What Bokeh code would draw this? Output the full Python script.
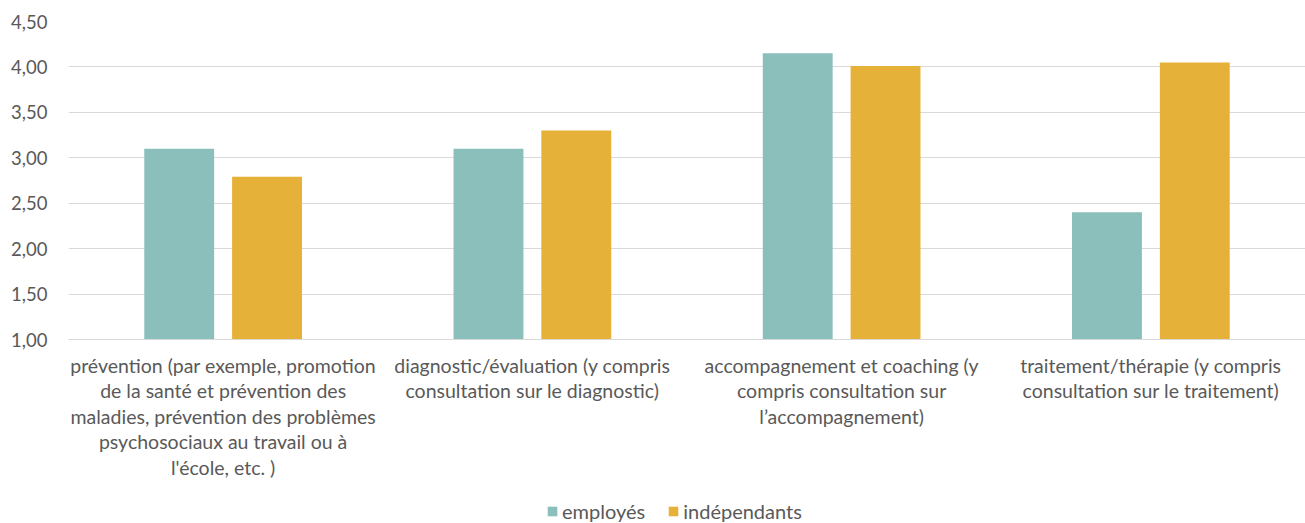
from bokeh.plotting import figure
from bokeh.layouts import column
from bokeh.models import (FactorRange, ColumnDataSource, FixedTicker,
                          CustomJSTickFormatter, Legend, LegendItem, Range1d)
from bokeh.transform import dodge
from bokeh.embed import file_html
from bokeh.resources import INLINE

categories = [
    "prévention (par exemple, promotion\nde la santé et prévention des\nmaladies, prévention des problèmes\npsychosociaux au travail ou à\nl'école, etc. )",
    "diagnostic/évaluation (y compris\nconsultation sur le diagnostic)",
    "accompagnement et coaching (y\ncompris consultation sur\nl’accompagnement)",
    "traitement/thérapie (y compris\nconsultation sur le traitement)",
]
series_names = ["employés", "indépendants"]
employes = [3.10, 3.10, 4.15, 2.40]
independants = [2.79, 3.30, 4.01, 4.05]
y_ticks = [1.0, 1.5, 2.0, 2.5, 3.0, 3.5, 4.0, 4.5]

colors = ["#8ABFBC", "#E6B138"]
FONT = "Lato"
TXT = "#595959"

src = ColumnDataSource(dict(cat=categories, emp=employes, ind=independants))

p = figure(x_range=FactorRange(*categories), y_range=(1.0, 4.5),
           width=1305, height=490, output_backend="svg", toolbar_location=None,
           min_border_left=68, min_border_right=0, min_border_top=21,
           min_border_bottom=151)
p.outline_line_color = None

r1 = p.vbar(x=dodge("cat", -0.142, range=p.x_range), top="emp", bottom=1.0,
            width=0.226, source=src, fill_color=colors[0], line_color=None)
r2 = p.vbar(x=dodge("cat", 0.142, range=p.x_range), top="ind", bottom=1.0,
            width=0.226, source=src, fill_color=colors[1], line_color=None)

p.yaxis.ticker = FixedTicker(ticks=y_ticks)
p.yaxis.formatter = CustomJSTickFormatter(code="return tick.toFixed(2).replace('.', ',');")
p.yaxis.axis_line_color = None
p.yaxis.major_tick_line_color = None
p.yaxis.minor_tick_line_color = None
p.yaxis.major_label_text_font = FONT
p.yaxis.major_label_text_font_size = "18.5px"
p.yaxis.major_label_text_color = TXT
p.yaxis.major_label_standoff = 15

p.xaxis.axis_line_color = "#D9D9D9"
p.xaxis.major_tick_line_color = None
p.xaxis.minor_tick_line_color = None
p.xaxis.major_label_text_font = FONT
p.xaxis.major_label_text_font_size = "19.5px"
p.xaxis.major_label_text_color = TXT
p.xaxis.major_label_text_line_height = 1.11
p.xaxis.major_label_standoff = 8

p.xgrid.grid_line_color = None
p.ygrid.grid_line_color = "#D9D9D9"
p.ygrid.grid_line_width = 1

# legend strip below the chart (dummy renderers hold one off-range point)
pl = figure(width=1305, height=33, output_backend="svg", toolbar_location=None,
            x_range=Range1d(0, 1), y_range=Range1d(0, 1),
            x_axis_type=None, y_axis_type=None,
            min_border_left=0, min_border_right=0, min_border_top=0,
            min_border_bottom=0)
pl.grid.visible = False
pl.outline_line_color = None
d1 = pl.vbar(x=[-10], top=[-10], bottom=-11, width=0.1,
             fill_color=colors[0], line_color=None)
d2 = pl.vbar(x=[-10], top=[-10], bottom=-11, width=0.1,
             fill_color=colors[1], line_color=None)
legend = Legend(items=[LegendItem(label=series_names[0], renderers=[d1]),
                       LegendItem(label=series_names[1], renderers=[d2])],
                orientation="horizontal", location=(478, 0),
                glyph_width=12, glyph_height=12, spacing=22,
                label_text_font=FONT, label_text_font_size="20px",
                label_text_color=TXT, border_line_color=None,
                background_fill_alpha=0, margin=0, padding=2,
                label_standoff=4)
pl.add_layout(legend, "center")

layout = column(p, pl, spacing=0)
open("out.html", "w").write(file_html(layout, INLINE))
